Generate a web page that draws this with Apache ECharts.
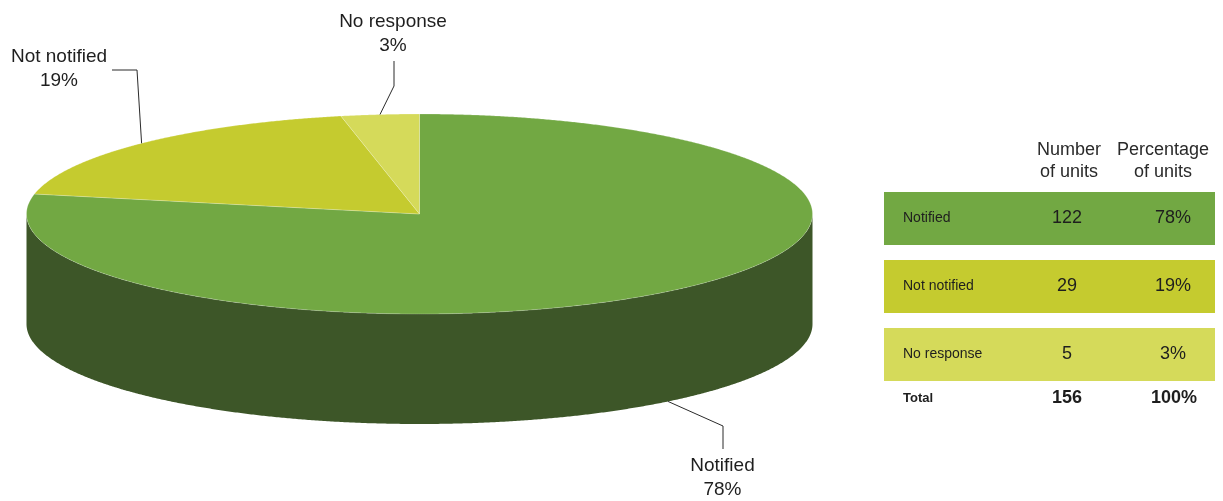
<!DOCTYPE html>
<html>
<head>
<meta charset="utf-8">
<script src="https://cdn.jsdelivr.net/npm/echarts@6/dist/echarts.min.js"></script>
<style>
  html, body { margin: 0; padding: 0; background: #ffffff; }
  #chart { width: 1223px; height: 501px; }
</style>
</head>
<body>
<div id="chart"></div>
<script>
// Units by notification status
const categories = ['Notified', 'Not notified', 'No response'];
const units = [122, 29, 5];
const tableHeaders = ['Number\nof units', 'Percentage\nof units'];
const totalLabel = 'Total';

// Styling
const sliceColors = ['#72a843', '#c5cb2f', '#d5da5a'];
const wallColors = ['#3d5628', '#6b6e1a', '#7c7f34'];
const FONT = '"Liberation Sans", Arial, sans-serif';
const TEXT = '#1e1e1e';

// Elliptical pie geometry (top face + side wall depth)
const PIE = { cx: 419.5, cy: 214, rx: 393, ry: 100, depth: 110 };

// Leader line elbows / ends and label centres, per slice
const labelLayout = [
  { elbow: [723, 426], end: [723, 449], text: [722.5, 477.5] },
  { elbow: [137, 70], end: [112, 70], text: [59, 69] },
  { elbow: [394, 86], end: [394, 61], text: [393, 34] }
];

const total = units.reduce((a, b) => a + b, 0);
const pct = units.map(v => Math.round(v / total * 100));
const startAngles = [];
units.reduce((acc, v) => { startAngles.push(acc / total * Math.PI * 2); return acc + v; }, 0);

function ellPt(theta, dy) {
  return [PIE.cx + PIE.rx * Math.sin(theta), PIE.cy + (dy || 0) - PIE.ry * Math.cos(theta)];
}
function arcPts(a0, a1, dy) {
  const n = Math.max(2, Math.ceil((a1 - a0) / 0.005));
  const pts = [];
  for (let k = 0; k <= n; k++) pts.push(ellPt(a0 + (a1 - a0) * k / n, dy));
  return pts;
}

function renderSlice(params, api) {
  const i = params.dataIndex;
  const v = api.value(0);
  const a0 = startAngles[i];
  const a1 = a0 + v / total * Math.PI * 2;
  const children = [];

  // visible side wall: front half of the cylinder
  const s0 = Math.max(a0, Math.PI / 2), s1 = Math.min(a1, Math.PI * 1.5);
  if (s1 > s0) {
    const top = arcPts(s0, s1, 0);
    const bot = arcPts(s0, s1, PIE.depth).reverse();
    children.push({
      type: 'polygon',
      shape: { points: top.concat(bot) },
      style: { fill: wallColors[i] }
    });
  }

  // top face
  children.push({
    type: 'polygon',
    shape: { points: [[PIE.cx, PIE.cy]].concat(arcPts(a0, a1, 0)) },
    style: { fill: sliceColors[i], stroke: 'rgba(255,255,255,0.35)', lineWidth: 0.6 }
  });

  // leader line and label
  const mid = (a0 + a1) / 2;
  const anchor = ellPt(mid, Math.cos(mid) < 0 ? PIE.depth : 0);
  const L = labelLayout[i];
  children.push({
    type: 'polyline',
    shape: { points: [anchor, L.elbow, L.end] },
    style: { stroke: '#2b2b2b', lineWidth: 1, fill: null }
  });
  children.push({
    type: 'text',
    x: L.text[0], y: L.text[1],
    style: {
      text: categories[i] + '\n' + pct[i] + '%',
      fill: TEXT, font: '19px ' + FONT, lineHeight: 24,
      align: 'center', verticalAlign: 'middle'
    }
  });
  return { type: 'group', children: children };
}

// Summary table on the right
const TBL = { x: 884, w: 331, rowTop: [192, 260, 328], rowH: 53, labelX: 903, numX: 1067, pctX: 1173, headY: 161, totalY: 398 };
const graphics = [];
graphics.push({
  type: 'text', x: 1069, y: TBL.headY,
  style: { text: tableHeaders[0], font: '18px ' + FONT, fill: '#2a2a2a', lineHeight: 22, align: 'center', verticalAlign: 'middle' }
});
graphics.push({
  type: 'text', x: 1163, y: TBL.headY,
  style: { text: tableHeaders[1], font: '18px ' + FONT, fill: '#2a2a2a', lineHeight: 22, align: 'center', verticalAlign: 'middle' }
});
categories.forEach((c, i) => {
  const top = TBL.rowTop[i], midY = top + TBL.rowH / 2;
  graphics.push({ type: 'rect', shape: { x: TBL.x, y: top, width: TBL.w, height: TBL.rowH }, style: { fill: sliceColors[i] } });
  graphics.push({ type: 'text', x: TBL.labelX, y: midY, style: { text: c, font: '14px ' + FONT, fill: TEXT, align: 'left', verticalAlign: 'middle' } });
  graphics.push({ type: 'text', x: TBL.numX, y: midY, style: { text: String(units[i]), font: '18px ' + FONT, fill: TEXT, align: 'center', verticalAlign: 'middle' } });
  graphics.push({ type: 'text', x: TBL.pctX, y: midY, style: { text: pct[i] + '%', font: '18px ' + FONT, fill: TEXT, align: 'center', verticalAlign: 'middle' } });
});
graphics.push({ type: 'text', x: TBL.labelX, y: TBL.totalY, style: { text: totalLabel, font: 'bold 13px ' + FONT, fill: TEXT, align: 'left', verticalAlign: 'middle' } });
graphics.push({ type: 'text', x: TBL.numX, y: TBL.totalY, style: { text: String(total), font: 'bold 18px ' + FONT, fill: TEXT, align: 'center', verticalAlign: 'middle' } });
graphics.push({ type: 'text', x: TBL.pctX + 1, y: TBL.totalY, style: { text: pct.reduce((a, b) => a + b, 0) + '%', font: 'bold 18px ' + FONT, fill: TEXT, align: 'center', verticalAlign: 'middle' } });

const chart = echarts.init(document.getElementById('chart'), null, { renderer: 'canvas' });
chart.setOption({
  animation: false,
  backgroundColor: '#ffffff',
  graphic: graphics,
  series: [{
    type: 'custom',
    coordinateSystem: 'none',
    renderItem: renderSlice,
    data: units.map((v, i) => ({ name: categories[i], value: [v] })),
    silent: true
  }]
});
</script>
</body>
</html>
